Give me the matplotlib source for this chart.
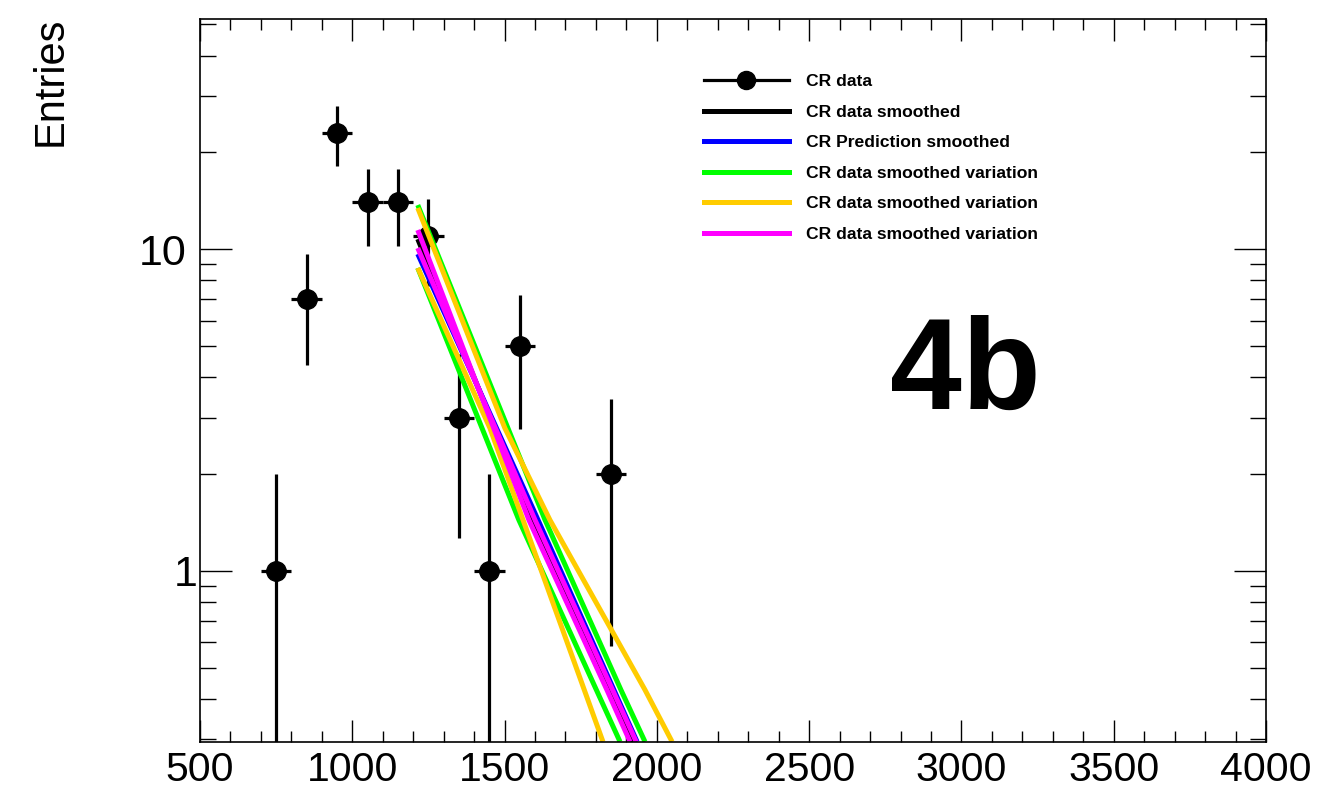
import numpy as np
import matplotlib
matplotlib.use("Agg")
import matplotlib.pyplot as plt
from matplotlib.lines import Line2D
from matplotlib.ticker import FixedLocator, NullFormatter, FixedFormatter
from matplotlib.transforms import ScaledTranslation

plt.rcParams['font.family'] = ['Liberation Sans', 'DejaVu Sans']

# CR data histogram (bin centres, entries), bin width 100
bin_centers = [750, 850, 950, 1050, 1150, 1250, 1350, 1450, 1550, 1850]
entries = [1, 7, 23, 14, 14, 11, 3, 1, 5, 2]
bin_half_width = 50

# Smoothed curves: (x, value) nodes along each curve
smooth_x = [1215, 1590, 1922]
smooth_y = [10.76, 1.44, 0.2946]
pred_x = [1215, 1610, 1935]
pred_y = [9.67, 1.44, 0.2946]
green_up_x = [1215, 1633, 1882, 1961]
green_up_y = [13.73, 1.44, 0.427, 0.2946]
green_dn_x = [1215, 1547, 1879]
green_dn_y = [8.75, 1.44, 0.2946]
orange_up_x = [1215, 1501, 1649, 1961, 2050]
orange_up_y = [13.44, 2.78, 1.44, 0.427, 0.2946]
orange_dn_x = [1215, 1452, 1823]
orange_dn_y = [8.75, 2.78, 0.2946]
magenta_up_x = [1215, 1580, 1836, 1912]
magenta_up_y = [11.48, 1.44, 0.427, 0.2946]
magenta_dn_x = [1215, 1600, 1932]
magenta_dn_y = [10.09, 1.44, 0.2946]

legend_labels = ["CR data", "CR data smoothed", "CR Prediction smoothed",
                 "CR data smoothed variation", "CR data smoothed variation",
                 "CR data smoothed variation"]

BLACK = "#000000"
BLUE = "#0000ff"
GREEN = "#00ff00"
ORANGE = "#ffcc00"
MAGENTA = "#ff00ff"

W, H = 1322, 790
fig = plt.figure(figsize=(W / 100, H / 100), dpi=100)
ax = fig.add_axes([200 / W, (H - 741.7) / H, (1266 - 200) / W, (741.7 - 19) / H])
ax.set_yscale('log')
ax.set_xlim(500, 4000)
ax.set_ylim(0.2946, 52)

lw = 3.6
ax.plot(smooth_x, smooth_y, color=BLACK, lw=lw, solid_capstyle='butt', zorder=2)
ax.plot(pred_x, pred_y, color=BLUE, lw=lw, solid_capstyle='butt', zorder=2)
for xs, ys in [(green_up_x, green_up_y), (green_dn_x, green_dn_y)]:
    ax.plot(xs, ys, color=GREEN, lw=lw, solid_capstyle='butt', zorder=2)
for xs, ys in [(orange_up_x, orange_up_y), (orange_dn_x, orange_dn_y)]:
    ax.plot(xs, ys, color=ORANGE, lw=lw, solid_capstyle='butt', zorder=2)
for xs, ys in [(magenta_up_x, magenta_up_y), (magenta_dn_x, magenta_dn_y)]:
    ax.plot(xs, ys, color=MAGENTA, lw=lw, solid_capstyle='butt', zorder=2)

# data points with sqrt(N) errors
n = np.array(entries, dtype=float)
err = np.sqrt(n)
err_lo = np.minimum(err, n - 1e-4)
ax.errorbar(bin_centers, entries, xerr=bin_half_width, yerr=[err_lo, err],
            fmt='o', color=BLACK, ms=14, elinewidth=2.3, capsize=0, zorder=1)

# ticks on all four sides, pointing inwards
ax.xaxis.set_major_locator(FixedLocator(np.arange(500, 4001, 500)))
ax.xaxis.set_minor_locator(FixedLocator(np.arange(500, 4001, 100)))
ax.set_xticklabels([str(v) for v in range(500, 4001, 500)])
ax.yaxis.set_major_locator(FixedLocator([1, 10]))
minor_y = [v * d for d in (0.1, 1, 10) for v in range(2, 10)]
ax.yaxis.set_minor_locator(FixedLocator(minor_y))
ax.yaxis.set_major_formatter(FixedFormatter(["1", "10"]))
ax.yaxis.set_minor_formatter(NullFormatter())

ax.tick_params(axis='x', which='major', direction='in', length=15.8, width=1.0,
               top=True, labelsize=29.5, pad=7)
ax.tick_params(axis='x', which='minor', direction='in', length=7.9, width=1.0, top=True)
ax.tick_params(axis='y', which='major', direction='in', length=23, width=1.0,
               right=True, labelsize=31, pad=10)
ax.tick_params(axis='y', which='minor', direction='in', length=11.5, width=1.0, right=True)
for s in ax.spines.values():
    s.set_linewidth(1.2)

# nudge the lone "1" label towards the axis
one_tick = ax.yaxis.get_major_ticks()[0]
one_tick.label1.set_transform(one_tick.label1.get_transform()
                              + ScaledTranslation(0.12, 0, fig.dpi_scale_trans))

fig.text(51 / W, 1 - 17 / H, "Entries", rotation=90, fontsize=30,
         ha='center', va='top')

ax.text(0.647, 0.4604, "4b", transform=ax.transAxes, fontsize=93,
        fontweight='bold', ha='left', va='baseline')

handles = [
    Line2D([], [], color=BLACK, lw=2.3, marker='o', ms=13),
    Line2D([], [], color=BLACK, lw=lw),
    Line2D([], [], color=BLUE, lw=lw),
    Line2D([], [], color=GREEN, lw=lw),
    Line2D([], [], color=ORANGE, lw=lw),
    Line2D([], [], color=MAGENTA, lw=lw),
]
leg = ax.legend(handles, legend_labels, loc='upper left',
                bbox_to_anchor=(704 / W, 1 - 74 / H), bbox_transform=fig.transFigure,
                frameon=False, prop={'weight': 'bold', 'size': 12.6},
                handlelength=4.85, handletextpad=1.0, labelspacing=0.87,
                borderpad=0, borderaxespad=0)

fig.savefig("out.png", dpi=100)
